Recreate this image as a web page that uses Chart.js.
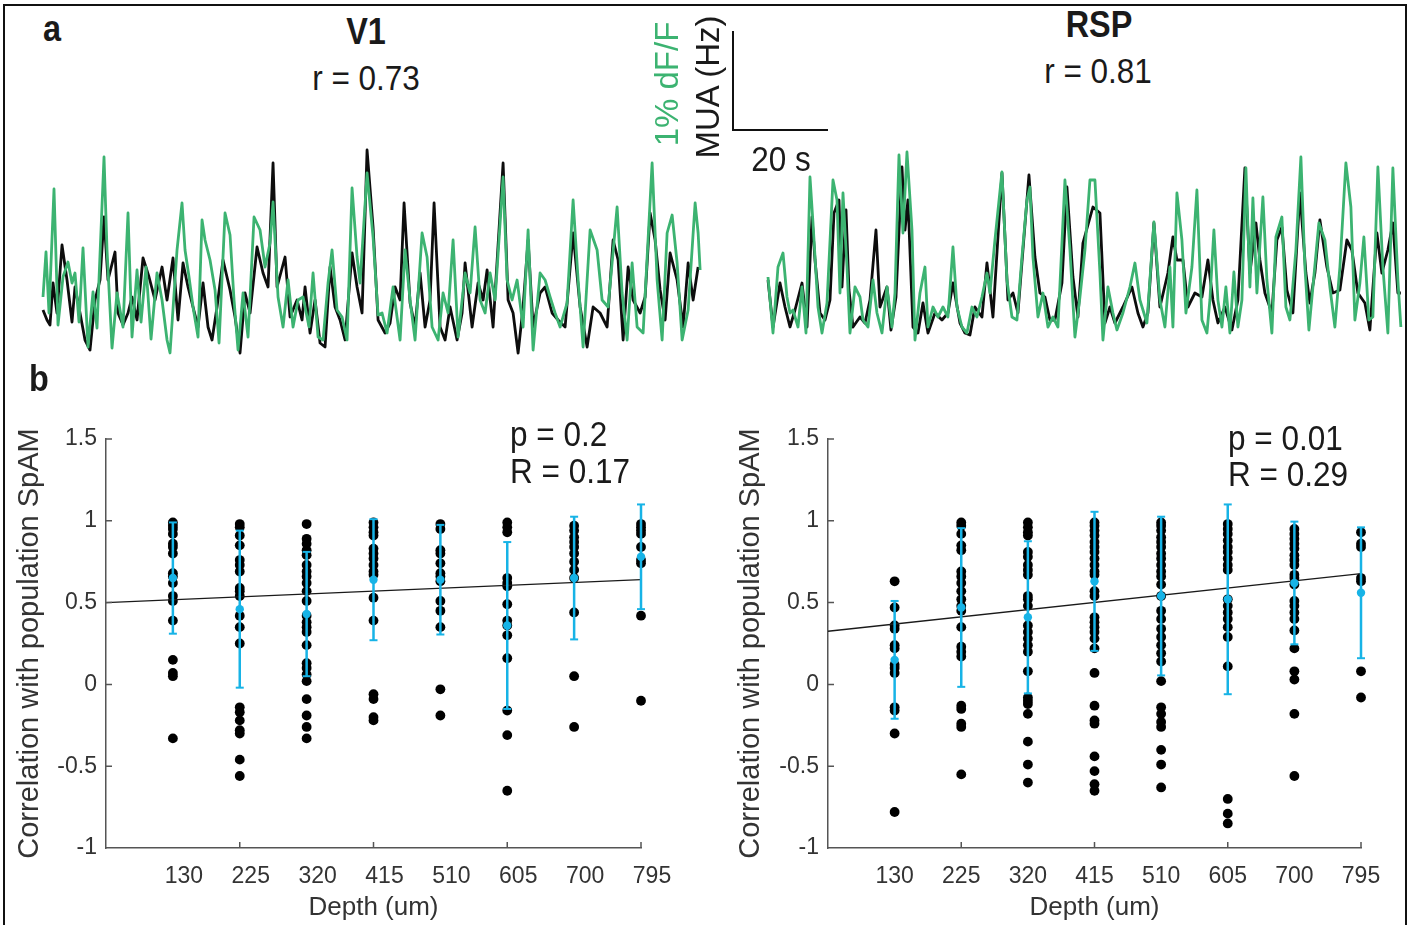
<!DOCTYPE html>
<html>
<head>
<meta charset="utf-8">
<script src="https://cdn.jsdelivr.net/npm/chart.js@4.4.1/dist/chart.umd.min.js"></script>
<style>
  body { margin: 0; background: #fff; }
  #fig { position: relative; width: 1412px; height: 925px; overflow: hidden;
         font-family: 'Liberation Sans', Arial, Helvetica, sans-serif; color: #1a1a1a; }
  canvas { position: absolute; }
  .txt { position: absolute; white-space: nowrap; line-height: 1; }
  .bar { position: absolute; background: #111; }
  #frame { position: absolute; left: 3px; top: 4px; width: 1404px; height: 940px;
           border: 2px solid #111; box-sizing: border-box; }
</style>
</head>
<body>
<div id="fig">
  <div id="frame"></div>
  <canvas id="v1Trace" width="670" height="227" style="left:36px;top:139px"></canvas>
  <canvas id="rspTrace" width="646" height="227" style="left:762px;top:139px"></canvas>
  <canvas id="v1Depth" width="700" height="510" style="left:5px;top:415px"></canvas>
  <canvas id="rspDepth" width="680" height="510" style="left:726px;top:415px"></canvas>
  <!-- scale bar: 1% dF/F / MUA, 20 s -->
  <div class="bar" style="left:732px;top:31px;width:2px;height:100px"></div>
  <div class="bar" style="left:732px;top:129px;width:96px;height:2px"></div>
</div>
<script>
const FONT = "'Liberation Sans', Arial, Helvetica, sans-serif";
const GREEN = '#3cb371';
const CYAN = '#17b3e6';
const AXIS = '#555';
const TICK = '#333';

// ---- panel a: traces, [frame, value] pairs ----
const FRAME_RATE = 4.75;          // frames per second (20 s bar = 95 frames)
const v1Duration = 138.5;         // s
const rspDuration = 133.5;        // s

const v1Dff = [
  [1,63],[4,108],[7,47],[12,171],[16,35],[21,83],[26,98],[30,77],[33,87],[37,38],[41,112],[46,13],
  [51,68],[55,32],[62,203],[65,110],[70,12],[75,67],[81,33],[86,147],[90,23],[95,90],[99,38],[104,93],
  [109,21],[115,87],[120,60],[125,20],[128,7],[135,110],[140,157],[143,110],[147,83],[151,53],[156,23],
  [160,140],[163,120],[168,100],[173,70],[177,17],[183,147],[188,125],[192,60],[196,10],[201,67],[206,23],
  [212,143],[218,130],[223,93],[228,117],[231,158],[236,63],[241,33],[246,80],[251,33],[256,60],[261,63],
  [267,33],[271,87],[276,23],[281,20],[286,77],[290,110],[295,50],[300,43],[305,20],[310,172],[315,103],
  [318,77],[325,187],[331,123],[336,45],[340,47],[345,27],[351,73],[358,20],[363,110],[368,60],[373,20],
  [380,127],[385,103],[390,33],[396,20],[401,67],[406,47],[411,120],[416,23],[423,87],[428,67],[433,133],
  [438,60],[443,47],[448,87],[453,60],[461,183],[465,80],[470,60],[475,80],[481,33],[486,130],[491,10],
  [498,87],[503,80],[508,63],[513,47],[518,33],[525,57],[531,160],[536,80],[541,13],[548,130],[555,110],
  [560,60],[566,53],[575,153],[580,67],[585,20],[590,97],[595,33],[601,27],[610,197],[615,80],[620,20],
  [625,127],[630,145],[635,97],[640,20],[646,50],[653,157],[656,127],[658,90]
];
const v1Mua = [
  [1,50],[5,40],[8,35],[11,77],[15,47],[20,115],[25,80],[30,38],[33,73],[38,47],[43,20],[48,10],[53,60],
  [58,80],[62,143],[66,80],[73,108],[76,47],[81,35],[86,47],[90,63],[95,40],[101,102],[107,83],[113,60],
  [120,93],[125,60],[131,102],[136,40],[141,97],[146,73],[151,53],[156,33],[161,77],[166,33],[170,20],
  [175,53],[181,100],[188,70],[193,43],[198,7],[203,67],[208,47],[215,113],[221,87],[226,73],[231,197],
  [235,73],[243,103],[248,43],[255,60],[260,40],[263,73],[268,27],[273,60],[278,17],[283,13],[288,93],
  [293,53],[298,40],[303,20],[310,107],[315,73],[320,47],[325,210],[331,133],[336,40],[343,27],[348,37],
  [353,73],[358,60],[362,157],[368,57],[373,33],[378,87],[383,33],[388,60],[392,157],[398,33],[403,20],
  [408,53],[415,20],[420,47],[423,97],[430,33],[436,77],[441,60],[445,90],[451,33],[461,197],[466,60],
  [471,47],[476,7],[481,53],[486,120],[491,33],[498,67],[503,73],[510,47],[516,40],[523,33],[531,127],
  [538,53],[545,13],[551,53],[558,47],[565,33],[571,120],[576,100],[581,20],[586,93],[591,60],[598,47],
  [603,63],[608,147],[613,120],[618,70],[623,40],[628,107],[635,80],[641,33],[646,97],[651,60],[656,93]
];
const rspDff = [
  [0,83],[5,27],[10,93],[15,107],[19,63],[22,47],[25,50],[30,33],[34,73],[38,27],[42,183],[45,137],
  [50,53],[54,27],[59,57],[65,180],[69,160],[72,67],[75,167],[79,93],[82,27],[87,73],[92,63],[95,40],
  [100,33],[105,80],[109,47],[114,27],[119,73],[124,33],[127,67],[131,205],[135,127],[139,208],[144,130],
  [147,20],[152,67],[157,93],[160,33],[165,53],[170,43],[175,53],[180,43],[185,113],[189,53],[194,33],
  [199,27],[204,53],[209,43],[214,63],[219,87],[222,67],[227,120],[234,188],[239,80],[244,43],[249,40],
  [254,103],[259,160],[262,173],[265,103],[270,43],[275,67],[280,33],[285,43],[290,33],[297,180],[302,110],
  [307,23],[312,63],[317,110],[322,180],[327,180],[332,87],[335,20],[340,73],[345,47],[349,30],[355,47],
  [362,73],[367,97],[372,60],[379,37],[386,138],[392,60],[397,33],[402,93],[405,33],[409,167],[414,120],
  [418,47],[424,93],[429,170],[434,40],[439,27],[442,60],[446,130],[450,60],[454,33],[458,73],[462,27],
  [466,88],[470,33],[474,60],[478,192],[482,73],[485,162],[489,67],[495,163],[499,80],[504,27],[508,123],
  [514,143],[518,53],[522,40],[528,110],[533,203],[537,93],[541,30],[545,73],[551,137],[557,120],[562,73],
  [567,33],[572,93],[578,197],[583,153],[587,40],[592,77],[596,123],[601,40],[605,43],[610,193],[615,93],
  [620,27],[625,192],[630,80],[633,33]
];
const rspMua = [
  [0,80],[5,33],[12,77],[17,53],[22,33],[27,50],[34,77],[39,33],[44,143],[47,100],[52,47],[57,40],[62,60],
  [66,147],[71,160],[74,73],[78,150],[81,70],[85,33],[92,43],[97,37],[102,60],[108,130],[112,53],[119,73],
  [123,30],[128,63],[134,193],[137,130],[140,160],[145,33],[150,27],[155,57],[160,27],[167,47],[174,40],
  [180,47],[185,77],[192,37],[197,27],[202,25],[207,53],[214,43],[219,97],[225,43],[234,187],[240,60],
  [245,67],[250,47],[255,110],[261,185],[267,103],[272,67],[277,63],[282,40],[287,40],[294,77],[299,173],
  [305,83],[310,43],[315,117],[325,153],[332,147],[337,37],[342,53],[347,37],[355,53],[364,73],[370,47],
  [375,33],[380,47],[386,137],[392,53],[400,87],[405,123],[409,100],[415,100],[420,53],[427,67],[434,63],
  [440,100],[445,60],[450,37],[457,53],[464,30],[470,60],[477,192],[482,87],[488,137],[492,100],[497,67],
  [504,47],[509,120],[514,133],[519,70],[525,47],[532,167],[538,87],[542,57],[547,87],[552,140],[559,93],
  [565,67],[572,70],[579,120],[584,110],[590,67],[597,57],[602,30],[609,127],[614,87],[620,110],[625,137],
  [630,67],[633,67]
];

// ---- panel b: correlation with population SpAM per depth ----
const depthLabels = ['130', '225', '320', '415', '510', '605', '700', '795'];
const yTickValues = [-1, -0.5, 0, 0.5, 1, 1.5];

const v1Cells = [
  [0.99,0.97,0.95,0.92,0.86,0.84,0.80,0.68,0.66,0.62,0.54,0.51,0.39,0.15,0.07,0.05,-0.33],
  [0.98,0.96,0.91,0.85,0.76,0.73,0.69,0.59,0.57,0.54,0.42,0.35,0.25,-0.14,-0.17,-0.22,-0.28,-0.30,-0.46,-0.56],
  [0.98,0.89,0.86,0.82,0.79,0.73,0.69,0.66,0.62,0.57,0.51,0.42,0.38,0.35,0.32,0.24,0.13,0.10,0.06,0.02,-0.09,-0.19,-0.26,-0.33],
  [0.99,0.96,0.93,0.91,0.83,0.80,0.77,0.73,0.69,0.67,0.53,0.39,-0.06,-0.09,-0.20,-0.22],
  [0.98,0.95,0.82,0.80,0.74,0.68,0.66,0.63,0.51,0.45,0.35,-0.03,-0.19],
  [0.99,0.96,0.93,0.65,0.62,0.60,0.49,0.39,0.36,0.30,0.16,-0.16,-0.31,-0.65],
  [0.97,0.94,0.90,0.87,0.84,0.80,0.75,0.70,0.65,0.44,0.05,-0.26],
  [0.98,0.96,0.94,0.92,0.84,0.76,0.74,0.42,-0.10]
];
const v1Mean = [0.65, 0.46, 0.43, 0.64, 0.64, 0.36, 0.65, 0.78];
const v1Sd = [0.34, 0.48, 0.38, 0.37, 0.335, 0.51, 0.375, 0.32];
const v1Fit = [0.50, 0.64];   // regression line at x = 0 and x = 8

const rspCells = [
  [0.63,0.47,0.36,0.34,0.24,0.22,0.12,0.10,0.07,-0.14,-0.16,-0.30,-0.78],
  [0.99,0.97,0.92,0.85,0.82,0.69,0.66,0.62,0.57,0.52,0.48,0.45,0.35,0.23,0.20,0.17,-0.13,-0.15,-0.24,-0.26,-0.55],
  [0.99,0.96,0.93,0.91,0.81,0.78,0.73,0.70,0.67,0.54,0.52,0.48,0.36,0.32,0.28,0.24,0.20,0.08,-0.08,-0.10,-0.12,-0.18,-0.35,-0.49,-0.60],
  [0.99,0.97,0.94,0.91,0.87,0.84,0.81,0.77,0.73,0.69,0.67,0.57,0.54,0.41,0.38,0.35,0.32,0.28,0.22,0.07,-0.13,-0.22,-0.24,-0.44,-0.53,-0.61,-0.65],
  [0.99,0.97,0.94,0.90,0.87,0.84,0.80,0.77,0.73,0.69,0.66,0.61,0.54,0.45,0.40,0.34,0.29,0.24,0.19,0.14,0.02,-0.14,-0.18,-0.23,-0.26,-0.40,-0.49,-0.63],
  [0.98,0.95,0.92,0.88,0.84,0.81,0.77,0.73,0.70,0.52,0.48,0.44,0.40,0.35,0.29,0.11,-0.70,-0.79,-0.85],
  [0.95,0.92,0.89,0.86,0.83,0.79,0.76,0.73,0.67,0.65,0.61,0.51,0.48,0.44,0.40,0.33,0.22,0.08,0.03,-0.18,-0.56],
  [0.93,0.86,0.84,0.65,0.63,0.08,-0.08]
];
const rspMean = [0.15, 0.47, 0.41, 0.63, 0.54, 0.52, 0.62, 0.56];
const rspSd = [0.36, 0.485, 0.465, 0.425, 0.485, 0.58, 0.375, 0.40];
const rspFit = [0.325, 0.677];

Chart.defaults.font.family = FONT;

function traceChart(id, mua, dff, duration) {
  const toPts = arr => arr.map(([f, v]) => ({x: f / FRAME_RATE, y: v}));
  const line = {pointRadius: 0, borderWidth: 2.8, tension: 0, clip: false, borderJoinStyle: 'round'};
  new Chart(document.getElementById(id), {
    type: 'line',
    data: {
      datasets: [
        Object.assign({data: toPts(dff), borderColor: GREEN}, line),
        Object.assign({data: toPts(mua), borderColor: '#0d0d0d'}, line)
      ]
    },
    options: {
      responsive: false, animation: false, events: [],
      layout: {padding: 6},
      plugins: {legend: {display: false}, tooltip: {enabled: false}},
      scales: {
        x: {type: 'linear', display: false, min: 0, max: duration},
        y: {display: false, min: 0, max: 215}
      }
    }
  });
}

// MATLAB style ticks pointing into the axes
const inwardTicks = {
  id: 'inwardTicks',
  afterDraw(chart, args, opts) {
    const {ctx, chartArea: a, scales: {x, y}} = chart;
    ctx.save();
    ctx.strokeStyle = AXIS;
    ctx.lineWidth = 1.5;
    ctx.beginPath();
    opts.x.forEach(v => {
      const px = x.getPixelForValue(v);
      ctx.moveTo(px, a.bottom);
      ctx.lineTo(px, a.bottom - 6);
    });
    opts.y.forEach(v => {
      const py = y.getPixelForValue(v);
      ctx.moveTo(a.left, py);
      ctx.lineTo(a.left + 6, py);
    });
    ctx.stroke();
    ctx.restore();
  }
};

function depthChart(id, cells, means, sds, fit, opt) {
  const dots = [];
  cells.forEach((col, i) => col.forEach(v => dots.push({x: i + 1, y: v})));
  const bars = [];
  means.forEach((m, i) => {
    bars.push({x: i + 1, y: m - sds[i]}, {x: i + 1, y: m + sds[i]}, {x: i + 1, y: null});
  });
  const datasets = [
    {data: means.map((m, i) => ({x: i + 1, y: m})), pointRadius: 4.2, pointBackgroundColor: CYAN, pointBorderWidth: 0},
    {data: bars, showLine: true, spanGaps: false, borderColor: CYAN, borderWidth: 2.5,
     pointStyle: 'line', pointRadius: 4, pointBorderColor: CYAN, pointBorderWidth: 2},
    {data: [{x: 0, y: fit[0]}, {x: 8, y: fit[1]}], showLine: true, borderColor: '#1a1a1a', borderWidth: 1.3, pointRadius: 0},
    {data: dots, pointRadius: 4.9, pointBackgroundColor: '#000', pointBorderWidth: 0}
  ].map(d => Object.assign({clip: false}, d));

  new Chart(document.getElementById(id), {
    type: 'scatter',
    data: {datasets},
    options: {
      responsive: false, animation: false, events: [],
      layout: {padding: {left: 0, top: 24, right: opt.padRight, bottom: 0}},
      plugins: {
        legend: {display: false}, tooltip: {enabled: false},
        inwardTicks: {x: [2, 4, 6, 8], y: [-0.5, 0, 0.5, 1, 1.5]}
      },
      scales: {
        x: {
          type: 'linear', min: 0, max: 8,
          afterBuildTicks: s => { s.ticks = depthLabels.map((_, i) => ({value: i + 1})); },
          afterFit: s => { s.height = 77; },
          grid: {display: false, drawTicks: false},
          border: {color: AXIS, width: 1.5},
          ticks: {callback: v => depthLabels[v - 1], color: TICK, font: {size: 23}, padding: 15,
                  labelOffset: opt.labelOffset, maxRotation: 0, autoSkip: false},
          title: {display: true, text: 'Depth (um)', color: TICK, font: {size: 26}, padding: {top: 0, bottom: 2}}
        },
        y: {
          min: -1, max: 1.5,
          afterBuildTicks: s => { s.ticks = yTickValues.map(v => ({value: v})); },
          afterFit: s => { s.width = opt.yWidth; },
          grid: {display: false, drawTicks: false},
          border: {color: AXIS, width: 1.5},
          ticks: {callback: v => String(v), color: TICK, font: {size: 23}, padding: 9},
          title: {display: true, text: 'Correlation with population SpAM', color: TICK,
                  font: {size: 29}, padding: {top: 8, bottom: 0}}
        }
      }
    },
    plugins: [inwardTicks]
  });
}

traceChart('v1Trace', v1Mua, v1Dff, v1Duration);
traceChart('rspTrace', rspMua, rspDff, rspDuration);
depthChart('v1Depth', v1Cells, v1Mean, v1Sd, v1Fit, {padRight: 64, yWidth: 101, labelOffset: 11});
depthChart('rspDepth', rspCells, rspMean, rspSd, rspFit, {padRight: 45, yWidth: 102, labelOffset: 0});

// ---- texts ----
const fig = document.getElementById('fig');
function text(str, x, y, size, o = {}) {
  const d = document.createElement('div');
  d.className = 'txt';
  d.textContent = str;
  d.style.left = x + 'px';
  d.style.top = y + 'px';
  d.style.fontSize = size + 'px';
  if (o.bold) d.style.fontWeight = 'bold';
  if (o.color) d.style.color = o.color;
  if (o.rotate) {
    d.style.transform = 'translate(-50%,-50%) rotate(-90deg)';
  } else if (o.left) {
    d.style.transformOrigin = 'left center';
    d.style.transform = 'translateY(-50%) scaleX(0.9)';
  } else {
    d.style.transform = 'translate(-50%,-50%) scaleX(0.9)';
  }
  fig.appendChild(d);
}
text('a', 52, 29, 36, {bold: true});
text('b', 39, 379, 36, {bold: true});
text('V1', 366, 32, 36, {bold: true});
text('r = 0.73', 366, 77, 35);
text('RSP', 1099, 25, 36, {bold: true});
text('r = 0.81', 1098, 70, 35);
text('1% dF/F', 666, 84, 33, {rotate: true, color: GREEN});
text('MUA (Hz)', 707, 87, 33, {rotate: true});
text('20 s', 781, 158, 35);
text('p = 0.2', 510, 433, 35, {left: true});
text('R = 0.17', 510, 470, 35, {left: true});
text('p = 0.01', 1228, 437, 35, {left: true});
text('R = 0.29', 1228, 473, 35, {left: true});
</script>
</body>
</html>
